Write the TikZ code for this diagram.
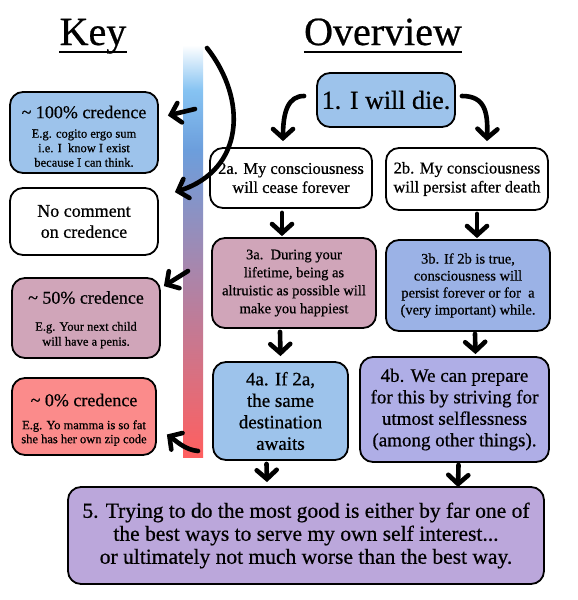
\documentclass[tikz,border=0pt]{standalone}
\usepackage{fontspec}
\setmainfont{Liberation Serif}[FakeBold=0.6]
\usetikzlibrary{arrows.meta}

\definecolor{credblue}{HTML}{9DC3EB}
\definecolor{credpink}{HTML}{D0A5B9}
\definecolor{credred}{HTML}{FB8B8B}
\definecolor{periwinkle}{HTML}{9BB2E6}
\definecolor{lavender}{HTML}{AFAEE6}
\definecolor{grape}{HTML}{BBA7DB}
\definecolor{barred}{HTML}{FF5F5F}
\definecolor{barmauve}{HTML}{A886AC}
\definecolor{barblue}{HTML}{6C9EDC}
\definecolor{barsky}{HTML}{86C3F2}

\pgfdeclareverticalshading{credbar}{100bp}{color(0bp)=(barred); color(25bp)=(barred); color(47.7bp)=(barmauve); color(62.3bp)=(barblue); color(69.5bp)=(barsky); color(75bp)=(white); color(100bp)=(white)}

\begin{document}
\begin{tikzpicture}[x=1pt,y=-1pt,
  box/.style={draw, line width=1.8pt, rounded corners=13pt, align=center, inner sep=0pt},
  arr/.style={line width=4.6pt, line cap=round, -{Straight Barb[length=9pt,width=20pt,line cap=round]}}]
\useasboundingbox (0,0) rectangle (578,600);
\fill[white] (0,0) rectangle (578,600);

\node[anchor=base, inner sep=0pt, font=\fontsize{40}{44}\selectfont] (key) at (93,45) {Key};
\node[anchor=base, inner sep=0pt, font=\fontsize{40}{44}\selectfont] (overview) at (383,45) {Overview};
\draw[line width=2pt] ([yshift=-7pt]key.base west) -- ([yshift=-7pt]key.base east);
\draw[line width=2pt] ([yshift=-7pt]overview.base west) -- ([yshift=-7pt]overview.base east);

\shade[shading=credbar] (183,45) rectangle (203,457);

\node[box, fill=credblue, minimum width=148pt, minimum height=81pt, font=\fontsize{12.5}{14.5}\selectfont] (k100) at (84,132.5)
  {\raisebox{0pt}[20pt][0pt]{}{\fontsize{18}{20}\selectfont\textasciitilde{} 100\% credence}\\[5pt] E.g. cogito ergo sum\\ i.e. I\ \ know I exist\\ because I can think.};
\node[box, minimum width=148pt, minimum height=67pt, font=\fontsize{18}{21}\selectfont] (knone) at (84,221.5) {No comment\\ on credence};
\node[box, fill=credpink, minimum width=148pt, minimum height=80pt, font=\fontsize{12.5}{15}\selectfont] (k50) at (86,318)
  {\raisebox{0pt}[16pt][0pt]{}{\fontsize{18}{20}\selectfont\textasciitilde{} 50\% credence}\\[12pt] E.g. Your next child\\ will have a penis.};
\node[box, fill=credred, minimum width=144pt, minimum height=77pt, font=\fontsize{12.5}{14}\selectfont] (k0) at (84,416.5)
  {\raisebox{0pt}[19pt][0pt]{}{\fontsize{18}{20}\selectfont\textasciitilde{} 0\% credence}\\[9pt] E.g. Yo mamma is so fat\\ she has her own zip code};

\node[box, fill=credblue, minimum width=138pt, minimum height=54pt, font=\fontsize{26}{28}\selectfont] (n1) at (386,100) {1. I will die.};
\node[box, minimum width=162pt, minimum height=60pt, font=\fontsize{16.5}{19}\selectfont] (n2a) at (291,178) {2a. My consciousness\\ will cease forever};
\node[box, minimum width=162pt, minimum height=62pt, font=\fontsize{16.5}{19}\selectfont] (n2b) at (467,179) {2b. My consciousness\\ will persist after death};
\node[box, fill=credpink, minimum width=164pt, minimum height=90pt, font=\fontsize{14.5}{18}\selectfont] (n3a) at (294,283)
  {3a.\ \ During your\\ lifetime, being as\\ altruistic as possible will\\ make you happiest};
\node[box, fill=periwinkle, minimum width=164pt, minimum height=91pt, font=\fontsize{14.5}{17}\selectfont] (n3b) at (468,285.5)
  {3b. If 2b is true,\\ consciousness will\\ persist forever or for\ \ a\\ (very important) while.};
\node[box, fill=credblue, minimum width=135pt, minimum height=98pt, font=\fontsize{19}{21.5}\selectfont] (n4a) at (280.5,411)
  {4a. If 2a,\\ the same\\ destination\\ awaits};
\node[box, fill=lavender, minimum width=189pt, minimum height=105pt, font=\fontsize{19}{21.5}\selectfont] (n4b) at (454.5,409.5)
  {4b. We can prepare\\ for this by striving for\\ utmost selflessness\\ (among other things).};
\node[box, fill=grape, minimum width=476pt, minimum height=97pt, font=\fontsize{21.5}{23}\selectfont] (n5) at (306,535.5)
  {5. Trying to do the most good is either by far one of\\ the best ways to serve my own self interest...\\ or ultimately not much worse than the best way.};

\coordinate (bartop) at (207,48);
\coordinate (bar100) at (195,109);
\coordinate (bar50) at (188,271);
\coordinate (bar0) at (198,451);

\draw[arr] (bartop) .. controls (248,100) and (244,170) .. ([shift={(16,5)}]knone.north east);
\draw[arr] (bar100) -- ([shift={(9,-17)}]k100.east);
\draw[arr] (bar50) -- ([shift={(3,9)}]k50.north east);
\draw[arr] (bar0) .. controls (185,450) and (175,440) .. ([shift={(10,18)}]k0.east);

\draw[arr] ([shift={(-12,-4)}]n1.west) .. controls (288,96) and (283,112) .. ([shift={(-8,-6)}]n2a.north);
\draw[arr] ([shift={(6,-4)}]n1.east) .. controls (485,96) and (488,112) .. ([shift={(20,-6)}]n2b.north);
\draw[arr] ([shift={(-9,4)}]n2a.south) -- ([shift={(-12,-1)}]n3a.north);
\draw[arr] ([shift={(10,3)}]n2b.south) -- ([shift={(9,-1)}]n3b.north);
\draw[arr] ([shift={(-14,3)}]n3a.south) -- ([shift={(0,-5)}]n4a.north);
\draw[arr] ([shift={(7,2)}]n3b.south) -- ([shift={(21,-2)}]n4b.north);
\draw[arr] ([shift={(-14,3)}]n4a.south) -- ([shift={(-39,-4)}]n5.north);
\draw[arr] ([shift={(4,2)}]n4b.south) -- ([shift={(152,1)}]n5.north);
\end{tikzpicture}
\end{document}
